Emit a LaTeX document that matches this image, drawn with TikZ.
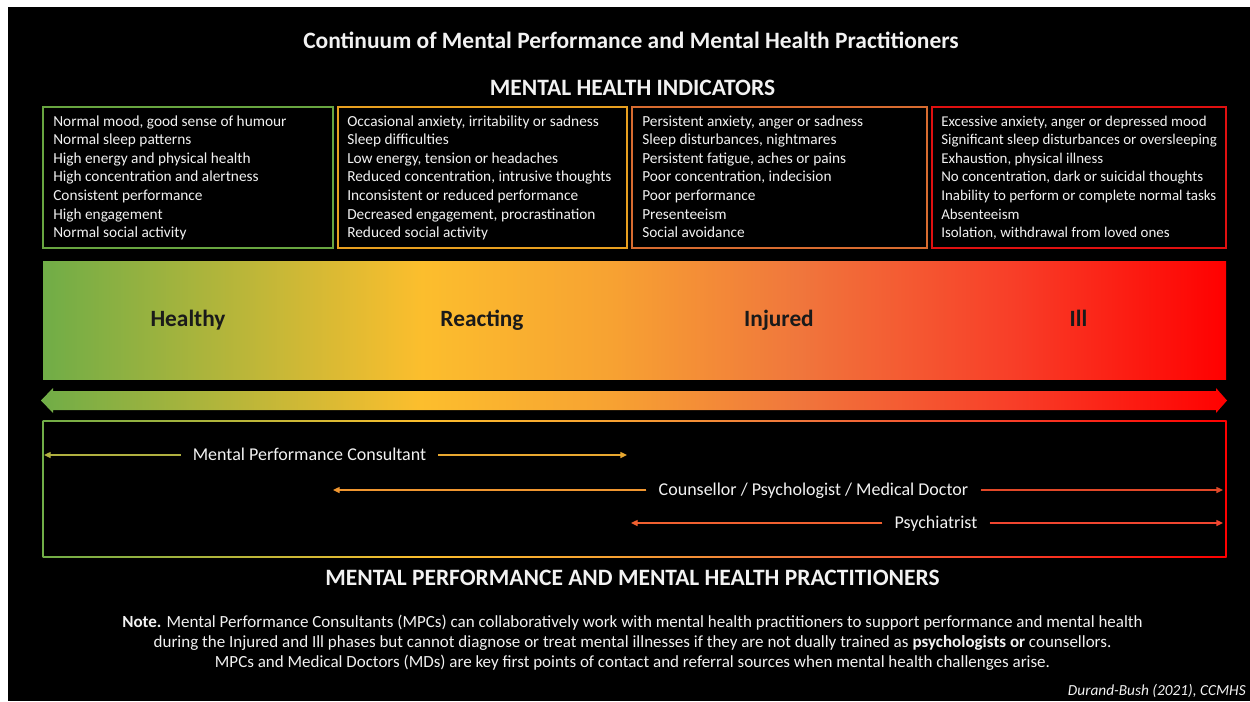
\documentclass[tikz,border=0pt]{standalone}
\usepackage{fontspec}
\setmainfont{Carlito}
\usetikzlibrary{arrows.meta}
\definecolor{cG}{RGB}{112,173,71}
\definecolor{cY}{RGB}{252,190,45}
\definecolor{cO}{RGB}{247,162,50}
\definecolor{cO2}{RGB}{240,118,60}
\definecolor{cR2}{RGB}{248,62,40}
\definecolor{cR}{RGB}{255,0,0}
\definecolor{bxA}{RGB}{104,165,64}
\definecolor{bxB}{RGB}{232,160,32}
\definecolor{bxC}{RGB}{216,108,48}
\definecolor{bxD}{RGB}{224,16,16}
\definecolor{lnA}{RGB}{176,176,64}
\definecolor{lnB}{RGB}{232,168,48}
\definecolor{lnC}{RGB}{240,150,48}
\definecolor{lnD}{RGB}{226,72,40}
\definecolor{lnE}{RGB}{240,96,48}
\definecolor{lnF}{RGB}{240,70,48}
\definecolor{txt}{RGB}{242,242,242}
\definecolor{dark}{RGB}{26,26,26}
\pgfdeclarehorizontalshading{barshade}{100bp}{color(0bp)=(cG); color(25bp)=(cG); color(41bp)=(cY); color(49bp)=(cO); color(57bp)=(cO2); color(66bp)=(cR2); color(75bp)=(cR); color(100bp)=(cR)}
\tikzset{
  heading/.style={anchor=base, inner sep=0pt, text=txt, font=\bfseries\fontsize{17.6}{20}\selectfont},
  boxline/.style={anchor=base west, inner sep=0pt, text=txt, font=\fontsize{11.5}{14}\selectfont},
  indbox/.style={line width=1pt},
  phase/.style={anchor=base, inner sep=0pt, text=dark, font=\bfseries\fontsize{17.5}{20}\selectfont},
  lbl/.style={anchor=center, inner xsep=9pt, inner ysep=0pt, text height=8.6pt, text depth=0pt, text=txt, font=\fontsize{13.5}{16}\selectfont},
  span/.style={line width=1pt, -{Triangle[length=5pt,width=4.5pt]}},
  note/.style={anchor=base, inner sep=0pt, text=txt, font=\fontsize{12.75}{15}\selectfont}
}
\begin{document}
\begin{tikzpicture}[x=0.75pt,y=-0.75pt]
\useasboundingbox (0,0) rectangle (1250,701);
\fill[white] (0,0) rectangle (1250,701);
\fill[black] (8,7) rectangle (1250,701);

\node[heading] (title) at (631,48) {Continuum of Mental Performance and Mental Health Practitioners};
\node[heading] (ind) at (632.5,95) {MENTAL HEALTH INDICATORS};

\draw[indbox, draw=bxA] (43,107) rectangle (333,248);
\draw[indbox, draw=bxB] (338,107) rectangle (627,248);
\draw[indbox, draw=bxC] (632,107) rectangle (927,248);
\draw[indbox, draw=bxD] (932,107) rectangle (1226,248);

\foreach \t [count=\i] in {{Normal mood, good sense of humour},{Normal sleep patterns},{High energy and physical health},{High concentration and alertness},{Consistent performance},{High engagement},{Normal social activity}}
  \node[boxline] (a\i) at (53,{126+18.6*(\i-1)}) {\t};
\foreach \t [count=\i] in {{Occasional anxiety, irritability or sadness},{Sleep difficulties},{Low energy, tension or headaches},{Reduced concentration, intrusive thoughts},{Inconsistent or reduced performance},{Decreased engagement, procrastination},{Reduced social activity}}
  \node[boxline] (b\i) at (347,{126+18.6*(\i-1)}) {\t};
\foreach \t [count=\i] in {{Persistent anxiety, anger or sadness},{Sleep disturbances, nightmares},{Persistent fatigue, aches or pains},{Poor concentration, indecision},{Poor performance},{Presenteeism},{Social avoidance}}
  \node[boxline] (c\i) at (642,{126+18.6*(\i-1)}) {\t};
\foreach \t [count=\i] in {{Excessive anxiety, anger or depressed mood},{Significant sleep disturbances or oversleeping},{Exhaustion, physical illness},{No concentration, dark or suicidal thoughts},{Inability to perform or complete normal tasks},{Absenteeism},{Isolation, withdrawal from loved ones}}
  \node[boxline, font=\fontsize{11.2}{14}\selectfont] (d\i) at (941,{126+18.6*(\i-1)}) {\t};

\shade[shading=barshade] (43,261) rectangle (1226,379);
\node[phase] (healthy) at (188,326) {Healthy};
\node[phase] (reacting) at (482,326) {Reacting};
\node[phase] (injured) at (779,326) {Injured};
\node[phase] (ill) at (1078.5,326) {Ill};

\shade[shading=barshade] (41,400.5) -- (53,388) -- (53,391) -- (1216,391) -- (1216,388) -- (1227,400.5) -- (1216,413) -- (1216,410) -- (53,410) -- (53,413) -- cycle;

\shade[shading=barshade] (42.5,420.5) rectangle (1226.5,557.5);
\fill[black] (44,422) rectangle (1225,556);

\coordinate (mpcA) at (44,455);
\coordinate (mpcB) at (627,455);
\node[lbl] (mpc) at (309.5,455) {Mental Performance Consultant};
\draw[span, draw=lnA, fill=lnA] (mpc.west) -- (mpcA);
\draw[span, draw=lnB, fill=lnB] (mpc.east) -- (mpcB);

\coordinate (cpmA) at (333,490);
\coordinate (cpmB) at (1223,490);
\node[lbl] (cpm) at (813.5,490) {Counsellor / Psychologist / Medical Doctor};
\draw[span, draw=lnC, fill=lnC] (cpm.west) -- (cpmA);
\draw[span, draw=lnD, fill=lnD] (cpm.east) -- (cpmB);

\coordinate (psyA) at (631,523);
\coordinate (psyB) at (1223,523);
\node[lbl] (psy) at (936,523) {Psychiatrist};
\draw[span, draw=lnE, fill=lnE] (psy.west) -- (psyA);
\draw[span, draw=lnF, fill=lnF] (psy.east) -- (psyB);

\node[heading] (prac) at (632.5,585.5) {MENTAL PERFORMANCE AND MENTAL HEALTH PRACTITIONERS};

\node[note] (n1) at (632.5,627) {\textbf{Note.} Mental Performance Consultants (MPCs) can collaboratively work with mental health practitioners to support performance and mental health};
\node[note] (n2) at (632.5,647) {during the Injured and Ill phases but cannot diagnose or treat mental illnesses if they are not dually trained as \textbf{psychologists or} counsellors.};
\node[note] (n3) at (632.5,667) {MPCs and Medical Doctors (MDs) are key first points of contact and referral sources when mental health challenges arise.};

\node[anchor=base east, inner sep=0pt, text=txt, font=\itshape\fontsize{11.5}{13}\selectfont] (src) at (1246,695) {Durand-Bush (2021), CCMHS};
\end{tikzpicture}
\end{document}
